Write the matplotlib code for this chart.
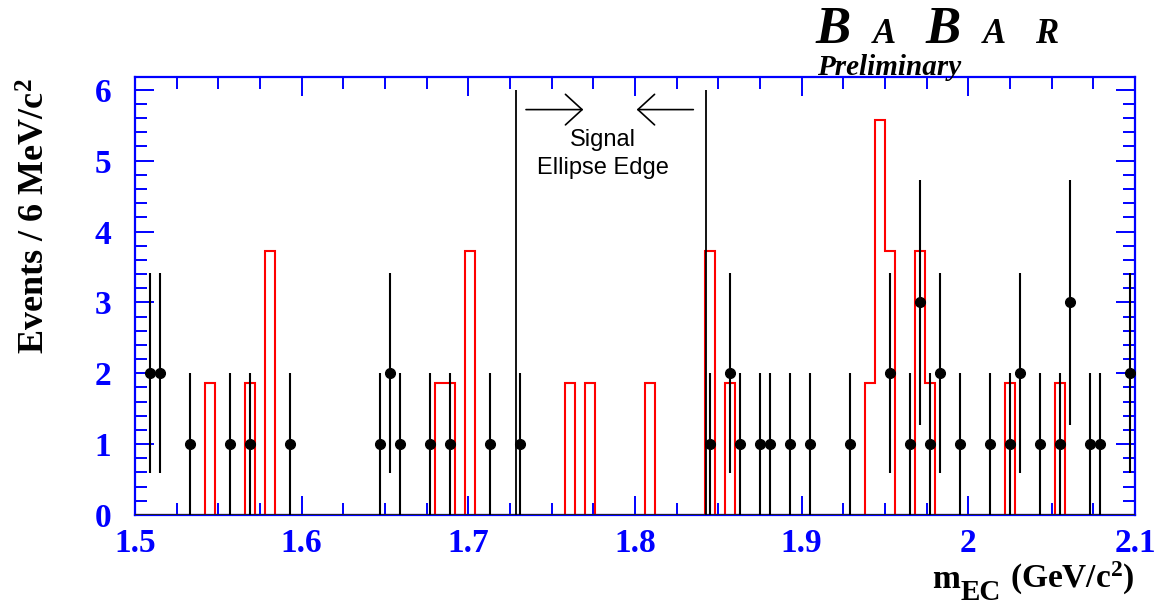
import numpy as np
import matplotlib
matplotlib.use('Agg')
import matplotlib.pyplot as plt
from matplotlib.ticker import MultipleLocator, FixedLocator, FixedFormatter

plt.rcParams['mathtext.fontset'] = 'custom'
plt.rcParams['mathtext.rm'] = 'Liberation Serif:bold'
plt.rcParams['mathtext.it'] = 'Liberation Serif:bold'
plt.rcParams['mathtext.bf'] = 'Liberation Serif:bold'

# data points, bin centres (GeV/c^2), 6 MeV bins
data_mass = [1.509, 1.515, 1.533, 1.557, 1.569, 1.593, 1.647, 1.653, 1.659, 1.677, 1.689, 1.713, 1.731,
             1.845, 1.857, 1.863, 1.875, 1.881, 1.893, 1.905, 1.929, 1.953, 1.965, 1.971, 1.977, 1.983,
             1.995, 2.013, 2.025, 2.031, 2.043, 2.055, 2.061, 2.073, 2.079, 2.097]
data_counts = [2, 2, 1, 1, 1, 1, 1, 2, 1, 1, 1, 1, 1,
               1, 2, 1, 1, 1, 1, 1, 1, 2, 1, 3, 1, 2,
               1, 1, 1, 2, 1, 1, 3, 1, 1, 2]

# red histogram, lower bin edges and heights (empty bins left out)
mc_low_edge = [1.542, 1.566, 1.578, 1.680, 1.686, 1.698, 1.758, 1.770, 1.806,
               1.842, 1.854, 1.938, 1.944, 1.950, 1.968, 1.974, 2.022, 2.052]
mc_height = [1.86, 1.86, 3.72, 1.86, 1.86, 3.72, 1.86, 1.86, 1.86,
             3.72, 1.86, 1.86, 5.58, 3.72, 3.72, 1.86, 1.86, 1.86]

signal_edges = [1.7285, 1.8425]
x_ticks = [1.5, 1.6, 1.7, 1.8, 1.9, 2.0, 2.1]
x_ticklabels = ['1.5', '1.6', '1.7', '1.8', '1.9', '2', '2.1']

xmin, xmax, bw = 1.5, 2.1, 0.006
edges = np.linspace(xmin, xmax, 101)
mc_full = np.zeros(100)
idx = np.round((np.array(mc_low_edge) - xmin) / bw).astype(int)
mc_full[idx] = mc_height

W, H = 1157, 605
fig = plt.figure(figsize=(W / 100, H / 100), dpi=100)
ax = fig.add_axes([135 / W, (H - 515) / H, 1000 / W, 438 / H])

blue = '#0000ff'
serif = 'Liberation Serif'

ax.stairs(mc_full, edges, color='red', lw=1.5, baseline=0, zorder=2)
ax.axhline(0, color='#222222', lw=2.2, zorder=3)
ax.vlines(signal_edges, 0, 6, color='k', lw=1.3, zorder=3)
ax.errorbar(data_mass, data_counts, yerr=np.sqrt(data_counts), fmt='o', color='k',
            ms=7, elinewidth=1.5, capsize=0, zorder=4)

# arrows and label between the signal lines
arrow_style = dict(arrowstyle='->,head_length=1.2,head_width=1.1', color='k', lw=1.2,
                   shrinkA=0, shrinkB=0, mutation_scale=10)
ax.annotate('', xy=(1.769, 5.72), xytext=(1.7346, 5.72), arrowprops=arrow_style)
ax.annotate('', xy=(1.801, 5.72), xytext=(1.835, 5.72), arrowprops=arrow_style)
ax.text(1.781, 5.29, 'Signal', ha='center', va='center', fontsize=17, family='Liberation Sans')
ax.text(1.781, 4.89, 'Ellipse Edge', ha='center', va='center', fontsize=17, family='Liberation Sans')

ax.set_xlim(xmin, xmax)
ax.set_ylim(0, 6.18)

for s in ax.spines.values():
    s.set_color(blue)
    s.set_linewidth(1.6)

ax.xaxis.set_major_locator(FixedLocator(x_ticks))
ax.xaxis.set_major_formatter(FixedFormatter(x_ticklabels))
ax.xaxis.set_minor_locator(MultipleLocator(0.025))
ax.yaxis.set_major_locator(MultipleLocator(1))
ax.yaxis.set_minor_locator(MultipleLocator(0.2))
ax.tick_params(which='both', direction='in', top=True, right=True, color=blue, width=1.4)
ax.tick_params(which='major', length=14)
ax.tick_params(which='minor', length=8.5)
ax.tick_params(axis='x', which='major', pad=9)
ax.tick_params(axis='y', which='major', pad=17)
for lab in ax.get_xticklabels() + ax.get_yticklabels():
    lab.set_family(serif)
    lab.set_fontweight('bold')
    lab.set_color(blue)
    lab.set_fontsize(24)

# axis titles
fig.text(36 / W, 1 - 78 / H, r'Events / 6 MeV/c$^{2}$', rotation=90, ha='center', va='top',
         fontsize=26, family=serif, fontweight='bold')

# x title built from pieces so the subscript can stay large (ROOT style)
renderer = fig.canvas.get_renderer()
t3 = fig.text(1135 / W, 1 - 588 / H, r'(GeV/c$^{2}$)', ha='right', va='baseline',
              fontsize=24, family=serif, fontweight='bold')
bb = t3.get_window_extent(renderer)
t2 = fig.text((bb.x0 - 9) / W, 1 - 600 / H, 'EC', ha='right', va='baseline',
              fontsize=21, family=serif, fontweight='bold')
bb = t2.get_window_extent(renderer)
fig.text((bb.x0 - 1) / W, 1 - 588 / H, 'm', ha='right', va='baseline',
         fontsize=24, family=serif, fontweight='bold')

# BaBar logo
logo = [('B', 815, 38), ('A', 873, 25), ('B', 925, 38), ('A', 983, 25), ('R', 1035, 25)]
for ch, px, sz in logo:
    fig.text(px / W, 1 - 43 / H, ch, ha='left', va='baseline', fontsize=sz, family=serif,
             fontweight='bold', style='italic')
fig.text(817 / W, 1 - 75 / H, 'Preliminary', ha='left', va='baseline', fontsize=21,
         family=serif, fontweight='bold', style='italic')

fig.savefig('out.png', dpi=100)
